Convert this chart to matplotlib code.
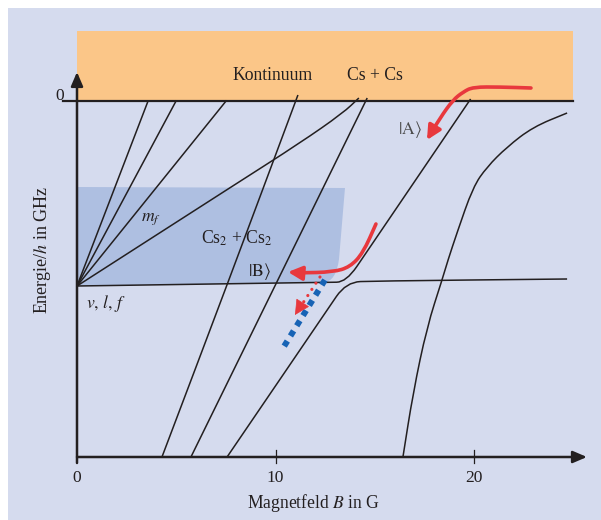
import numpy as np
import matplotlib.pyplot as plt
from matplotlib.path import Path
from matplotlib.patches import PathPatch, FancyArrowPatch, Rectangle

plt.rcParams['font.family'] = ['Liberation Serif', 'DejaVu Serif']
plt.rcParams['mathtext.fontset'] = 'stix'

# Energie-Niveau des Ursprungs (v, l, f)
E_origin = -1.85
E_bottom = -3.56

# Faecher aus dem Ursprung: B-Werte an der Schwelle E=0
fan_B = [3.58, 4.99, 7.51]
# flacher Faecherast, biegt zur Schwelle hoch
fan_curve_B = [0.0, 8.0, 11.23, 13.4, 14.2]
fan_curve_E = [-1.85, -0.83, -0.42, -0.12, 0.03]

# steile Linien von unten
line1_B = [4.28, 7.56, 11.13]
line1_E = [-3.56, -1.84, 0.06]
line2_B = [5.74, 14.62]
line2_E = [-3.56, 0.03]

# vermiedene Kreuzung bei ~13.5 G
upper_B = [0.0, 12.6, 13.56, 14.63, 19.83]
upper_E = [-1.85, -1.813, -1.811, -1.5, 0.02]
lower_B = [7.56, 12.57, 13.56, 15.0, 24.69]
lower_E = [-3.56, -2.1, -1.811, -1.80, -1.78]

# rechte Kurve
right_B = [16.42, 16.93, 17.63, 18.39, 18.69, 19.14, 19.95, 20.65, 21.66, 22.97, 24.69]
right_E = [-3.56, -2.92, -2.26, -1.79, -1.59, -1.32, -0.86, -0.66, -0.46, -0.26, -0.12]

# Pfeile
arrowA_B = [22.87, 21.31, 19.95, 19.45, 18.94, 18.29, 17.63]
arrowA_E = [0.13, 0.14, 0.14, 0.09, 0.01, -0.17, -0.39]
arrowB_B = [15.06, 14.41, 13.75, 12.90, 11.23, 10.63]
arrowB_E = [-1.23, -1.52, -1.66, -1.71, -1.72, -1.71]
dotted_B = [12.24, 10.98]
dotted_E = [-1.76, -2.14]
blue_B = [12.49, 10.38]
blue_E = [-1.79, -2.47]

# Bereiche
cont_B = [0.0, 25.0]
cont_E = [0.0, 0.70]
# Molekuel-Bereich: Ecken oben, rechte Kante, abgerundete Ecke unten rechts
mol_B = [0.0, 13.5, 13.2, 13.05, 12.4, 0.0]
mol_E = [-0.86, -0.87, -1.58, -1.81, -1.815, -1.85]

xticks = [0, 10, 20]
xticklabels = ['0', '10', '20']

INK = '#231f20'
RED = '#e8383d'
BLUE = '#1763b5'


def smooth(B, E):
    pts = np.column_stack([B, E])
    if len(pts) < 3:
        return Path(pts)
    verts = [pts[0], (pts[0] + pts[1]) / 2]
    codes = [Path.MOVETO, Path.LINETO]
    for i in range(1, len(pts) - 1):
        verts += [pts[i], (pts[i] + pts[i + 1]) / 2]
        codes += [Path.CURVE3, Path.CURVE3]
    verts.append(pts[-1])
    codes.append(Path.LINETO)
    return Path(verts, codes)


fig = plt.figure(figsize=(6.01, 5.2), dpi=100)
ax = fig.add_axes([0, 0, 1, 1])
ax.set_xlim(-77 / 19.85, 524 / 19.85)
ax.set_ylim(-4.19, 1.01)
ax.axis('off')
# Hintergrundflaeche
ax.add_patch(Rectangle((8 / 601, 0), 1, 512 / 520, transform=fig.transFigure,
                       color='#d5dbee', lw=0, zorder=0))

# Kontinuum und Molekuel-Bereich
ax.add_patch(Rectangle((cont_B[0], cont_E[0]), cont_B[1] - cont_B[0], cont_E[1] - cont_E[0],
                       color='#fbc688', lw=0, zorder=1))
mol_codes = [Path.MOVETO, Path.LINETO, Path.LINETO, Path.CURVE3, Path.CURVE3, Path.LINETO]
ax.add_patch(PathPatch(Path(np.column_stack([mol_B, mol_E]), mol_codes),
                       facecolor='#aebfe1', lw=0, zorder=1))

lw = 1.1
for b in fan_B:
    ax.plot([0, b], [E_origin, 0], color=INK, lw=lw, zorder=3)
for B, E in [(fan_curve_B, fan_curve_E), (line1_B, line1_E), (line2_B, line2_E),
             (upper_B, upper_E), (lower_B, lower_E), (right_B, right_E)]:
    ax.add_patch(PathPatch(smooth(B, E), fill=False, ec=INK, lw=lw, zorder=3))

# Achsen
ax.plot([-0.705, cont_B[1]], [0, 0], color=INK, lw=1.6, zorder=4)
ax.annotate('', xy=(0, 0.29), xytext=(0, -3.62),
            arrowprops=dict(arrowstyle='-|>,head_length=0.7,head_width=0.3', lw=1.8,
                            color=INK, shrinkA=0, shrinkB=0, mutation_scale=12), zorder=4)
ax.annotate('', xy=(25.69, E_bottom), xytext=(0, E_bottom),
            arrowprops=dict(arrowstyle='-|>,head_length=0.7,head_width=0.3', lw=1.8,
                            color=INK, shrinkA=0, shrinkB=0, mutation_scale=12), zorder=4)
for t, lab in zip(xticks, xticklabels):
    if t > 0:
        ax.plot([t, t], [-3.49, -3.62], color=INK, lw=0.9, zorder=4)
    ax.text(t, -3.77, lab, ha='center', va='center', fontsize=12.5, color=INK)
ax.text(-0.85, 0.01, '0', ha='center', va='baseline', fontsize=12.5, color=INK)

# Pfeile
ax.plot(blue_B, blue_E, color=BLUE, lw=4.3, ls=(0, (1, 1)), dash_capstyle='butt', zorder=5)
ax.add_patch(FancyArrowPatch(path=smooth(arrowA_B, arrowA_E),
                             arrowstyle='-|>,head_length=0.6,head_width=0.3',
                             mutation_scale=14, lw=2.6, color=RED, zorder=6))
ax.add_patch(FancyArrowPatch(path=smooth(arrowB_B, arrowB_E),
                             arrowstyle='-|>,head_length=0.6,head_width=0.3',
                             mutation_scale=14, lw=2.6, color=RED, zorder=6))
ax.plot(dotted_B[:1] + [11.25], dotted_E[:1] + [-2.06], color=RED, lw=2.3,
        ls=(0, (0.01, 2.3)), dash_capstyle='round', zorder=6)
ax.annotate('', xy=(dotted_B[1], dotted_E[1]), xytext=(11.3, -2.04),
            arrowprops=dict(arrowstyle='-|>,head_length=0.65,head_width=0.33', lw=0.5,
                            color=RED, shrinkA=0, shrinkB=0, mutation_scale=15), zorder=6)

# Beschriftungen
fs = 12.7
ax.text(9.87, 0.26, 'Kontinuum', ha='center', va='center', fontsize=fs, color=INK)
ax.text(15.01, 0.26, 'Cs + Cs', ha='center', va='center', fontsize=fs, color=INK)
ax.text(16.78, -0.29, r'$|\mathrm{A}\rangle$', ha='center', va='center', fontsize=fs, color='#4a4a4a')
ax.text(3.75, -1.17, r'$m_f$', ha='center', va='center', fontsize=fs, color=INK)
ax.text(8.06, -1.43, r'Cs$_2$ + Cs$_2$', ha='center', va='baseline', fontsize=fs, color=INK)
ax.text(9.17, -1.71, r'$|\mathrm{B}\rangle$', ha='center', va='center', fontsize=fs, color=INK)
ax.text(1.46, -2.02, r'$v,\, l,\, f$', ha='center', va='center', fontsize=fs, color=INK)
ax.text(11.94, -4.02, r'Magnetfeld $B$ in G', ha='center', va='center', fontsize=fs, color=INK)
ax.text(-1.76, -1.49, r'Energie/$h$ in GHz', ha='center', va='center', rotation=90,
        fontsize=13, color=INK)

fig.savefig('out.png', dpi=100)
